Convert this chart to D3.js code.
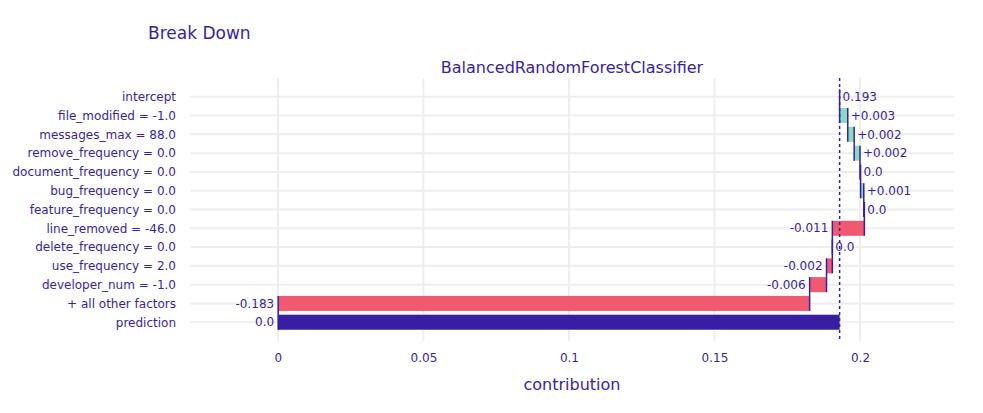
<!DOCTYPE html>
<html>
<head>
<meta charset="utf-8">
<script src="https://cdn.jsdelivr.net/npm/d3@7"></script>
<style>
  body { margin: 0; background: #fff; }
  svg text { font-family: "DejaVu Sans", Verdana, sans-serif; fill: #371ea3; }
</style>
</head>
<body>
<svg width="983" height="413"></svg>
<script>
// variables shown in the break down, top to bottom
const categories = [
    "intercept",
    "file_modified = -1.0",
    "messages_max = 88.0",
    "remove_frequency = 0.0",
    "document_frequency = 0.0",
    "bug_frequency = 0.0",
    "feature_frequency = 0.0",
    "line_removed = -46.0",
    "delete_frequency = 0.0",
    "use_frequency = 2.0",
    "developer_num = -1.0",
    "+ all other factors",
    "prediction"
];

// contribution of each row (intercept is the baseline, prediction is computed)
const contributions = [0.1930, 0.0028, 0.0022, 0.0020, 0.0002, 0.0011, 0.0002,
    -0.0110, 0.0000, -0.0020, -0.0058, -0.1826];

const xTicks = [0, 0.05, 0.1, 0.15, 0.2];
const xTickLabels = ["0", "0.05", "0.1", "0.15", "0.2"];

const chart = () => {
    const margin = { top: 78, right: 29, bottom: 72, left: 190 };
    const width = 983, height = 413;

    const svg = d3.select("svg");

    const x = d3.scaleLinear()
        .domain([-0.0302, 0.2323])
        .range([margin.left, width - margin.right]);

    const y = d3.scalePoint()
        .domain(categories)
        .range([margin.top, height - margin.bottom])
        .padding(1);

    const barH = y.step() * 0.8;

    // build the waterfall rows
    const rows = [];
    let cum = 0;
    contributions.forEach((v, i) => {
        if (i === 0) {
            rows.push({ name: categories[i], start: v, end: v, value: v, type: "intercept" });
            cum = v;
        } else {
            rows.push({ name: categories[i], start: cum, end: cum + v, value: v, type: v >= 0 ? "pos" : "neg" });
            cum += v;
        }
    });
    const intercept = contributions[0];
    rows.push({ name: "prediction", start: cum, end: intercept, value: cum, type: "pred" });

    const fmt = v => {
        const r = Math.round(v * 1000) / 1000;
        if (r === 0) return "0.0";
        return r.toFixed(3).replace(/0+$/, "");
    };
    const label = d => {
        if (d.type === "intercept" || d.type === "pred") return fmt(d.value);
        const t = fmt(d.value);
        return (Math.round(d.value * 1000) > 0 ? "+" : "") + t;
    };

    // grid
    svg.append("g")
        .attr("stroke", "#eeeeee")
        .attr("stroke-width", 2)
      .selectAll("line")
      .data(xTicks)
      .enter().append("line")
        .attr("x1", d => x(d)).attr("x2", d => x(d))
        .attr("y1", margin.top).attr("y2", height - margin.bottom);

    svg.append("g")
        .attr("stroke", "#eeeeee")
        .attr("stroke-width", 2)
      .selectAll("line")
      .data(categories)
      .enter().append("line")
        .attr("x1", margin.left).attr("x2", width - margin.right)
        .attr("y1", d => y(d)).attr("y2", d => y(d));

    // bars
    const color = { pos: "#8bdcbe", neg: "#f05a71", pred: "#371ea3" };
    svg.append("g")
      .selectAll("rect")
      .data(rows.filter(d => d.type !== "intercept"))
      .enter().append("rect")
        .attr("x", d => x(Math.min(d.start, d.end)))
        .attr("y", d => y(d.name) - barH / 2)
        .attr("width", d => Math.abs(x(d.end) - x(d.start)))
        .attr("height", barH)
        .attr("fill", d => color[d.type]);

    // connectors
    svg.append("g")
        .attr("stroke", "#371ea3")
        .attr("stroke-width", 1.5)
      .selectAll("line")
      .data(rows.slice(0, rows.length - 1))
      .enter().append("line")
        .attr("x1", d => x(d.end)).attr("x2", d => x(d.end))
        .attr("y1", d => y(d.name) - barH / 2)
        .attr("y2", (d, i) => y(categories[i + 1]) + barH / 2);

    // intercept dotted line
    svg.append("line")
        .attr("x1", x(intercept)).attr("x2", x(intercept))
        .attr("y1", margin.top).attr("y2", height - margin.bottom)
        .attr("stroke", "#371ea3")
        .attr("stroke-width", 1.5)
        .attr("stroke-dasharray", "3,3");

    // value labels
    svg.append("g")
        .style("font-size", "12px")
      .selectAll("text")
      .data(rows)
      .enter().append("text")
        .attr("x", d => {
            if (d.type === "neg" || d.type === "pred") return x(Math.min(d.start, d.end)) - 4;
            return x(Math.max(d.start, d.end)) + 3;
        })
        .attr("y", d => y(d.name))
        .attr("dy", "0.35em")
        .attr("text-anchor", d => (d.type === "neg" || d.type === "pred") ? "end" : "start")
        .text(label);

    // axes
    const xAxis = g => g
        .attr("transform", `translate(0,${height - margin.bottom})`)
        .call(d3.axisBottom(x).tickValues(xTicks).tickFormat((d, i) => xTickLabels[i]).tickSize(0).tickPadding(12))
        .call(g => g.select(".domain").remove());

    const yAxis = g => g
        .attr("transform", `translate(${margin.left},0)`)
        .call(d3.axisLeft(y).tickSize(0).tickPadding(14))
        .call(g => g.select(".domain").remove());

    svg.append("g").call(xAxis)
        .selectAll("text").style("font-size", "12px").style("font-family", null);
    svg.append("g").call(yAxis)
        .selectAll("text").style("font-size", "12px").style("font-family", null);
    svg.selectAll(".tick text").attr("fill", null);

    // titles
    svg.append("text")
        .attr("x", 148).attr("y", 39)
        .style("font-size", "17px")
        .text("Break Down");

    svg.append("text")
        .attr("x", (margin.left + width - margin.right) / 2).attr("y", 73)
        .attr("text-anchor", "middle")
        .style("font-size", "16px")
        .text("BalancedRandomForestClassifier");

    svg.append("text")
        .attr("x", (margin.left + width - margin.right) / 2).attr("y", 390)
        .attr("text-anchor", "middle")
        .style("font-size", "16px")
        .text("contribution");
};

chart();
</script>
</body>
</html>
